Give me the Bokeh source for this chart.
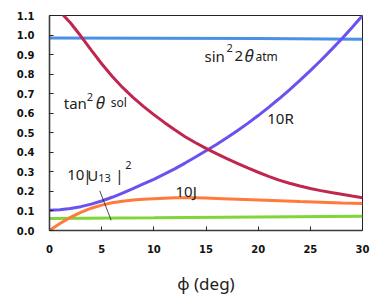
from bokeh.plotting import figure
from bokeh.models import FixedTicker, PrintfTickFormatter, Range1d
from bokeh.embed import file_html
from bokeh.resources import INLINE
from bokeh.core.properties import value

# ---- data ----
atm_phi = [0, 10, 20, 30]
atm_val = [0.985, 0.984, 0.982, 0.979]

sol_phi = [0, 1, 2, 3, 4, 5, 6, 7, 8, 9, 10, 11, 12, 13, 14, 15, 16, 17, 18, 19, 20,
           21, 22, 23, 24, 25, 26, 27, 28, 29, 30]
sol_val = [1.17, 1.12, 1.063, 0.995, 0.923, 0.853, 0.789, 0.732, 0.681, 0.635, 0.593,
           0.553, 0.515, 0.48, 0.449, 0.42, 0.393, 0.368, 0.344, 0.32, 0.298,
           0.277, 0.258, 0.242, 0.228, 0.215, 0.204, 0.194, 0.185, 0.176, 0.168]

r_phi = [0, 1, 2, 3, 4, 5, 6, 7, 8, 9, 10, 11, 12, 13, 14, 15, 16, 17, 18, 19, 20,
         21, 22, 23, 24, 25, 26, 27, 28, 29, 30]
r_val = [0.104, 0.106, 0.113, 0.122, 0.135, 0.151, 0.17, 0.191, 0.214, 0.238, 0.262,
         0.288, 0.315, 0.345, 0.376, 0.408, 0.44, 0.474, 0.51, 0.548, 0.588,
         0.63, 0.674, 0.72, 0.768, 0.818, 0.87, 0.924, 0.98, 1.039, 1.1]

j_phi = [0, 1, 2, 3, 4, 5, 6, 7, 8, 9, 10, 11, 12, 13, 14, 15, 16, 18, 20, 22, 24, 26, 28, 30]
j_val = [0.0, 0.036, 0.067, 0.093, 0.114, 0.13, 0.142, 0.15, 0.156, 0.16, 0.163, 0.165,
         0.167, 0.167, 0.167, 0.166, 0.164, 0.16, 0.156, 0.152, 0.148, 0.145, 0.141, 0.138]

u_phi = [0, 10, 20, 30]
u_val = [0.062, 0.065, 0.069, 0.073]

x_ticks = [0, 5, 10, 15, 20, 25, 30]
y_ticks = [0.0, 0.1, 0.2, 0.3, 0.4, 0.5, 0.6, 0.7, 0.8, 0.9, 1.0, 1.1]

# annotation anchors (data coords)
atm_lab = (14.86, 0.854)
sol_lab = (1.37, 0.613)
r_lab = (20.87, 0.536)
j_lab = (12.08, 0.16)
u_lab = (1.70, 0.245)
leader_x = [4.82, 5.91]
leader_y = [0.203, 0.052]

C_ATM = "#4a90e8"
C_SOL = "#c0274f"
C_R = "#6a52ef"
C_J = "#ff7b3c"
C_U = "#7fd63a"

FONT = "Noto Sans"
BASE_DY = -8

p = figure(width=370, height=297, output_backend="svg", toolbar_location=None,
           x_range=Range1d(0, 30), y_range=Range1d(0, 1.1),
           min_border_left=49, min_border_right=8, min_border_top=15, min_border_bottom=67)
p.background_fill_color = "white"
p.border_fill_color = "white"
p.outline_line_color = "#222222"
p.outline_line_width = 1
p.grid.visible = False

for ax in (p.xaxis[0], p.yaxis[0]):
    ax.axis_line_color = "#3c3c3c"
    ax.axis_line_width = 1.6
    ax.major_tick_in = 4
    ax.major_tick_out = 0
    ax.minor_tick_in = 0
    ax.minor_tick_out = 0
    ax.major_tick_line_color = "#222222"
    ax.major_label_text_font = "DejaVu Sans"
    ax.major_label_text_font_style = "bold"
    ax.major_label_text_font_size = "10px"
    ax.major_label_text_color = "#111111"

p.xaxis.ticker = FixedTicker(ticks=x_ticks)
p.yaxis.ticker = FixedTicker(ticks=y_ticks)
p.xaxis.formatter = PrintfTickFormatter(format="%d")
p.yaxis.formatter = PrintfTickFormatter(format="%.1f")
p.xaxis.major_label_standoff = 14
p.yaxis.major_label_standoff = 15
p.xaxis.axis_label = "ϕ (deg)"
p.xaxis.axis_label_text_font = FONT
p.xaxis.axis_label_text_font_style = "normal"
p.xaxis.axis_label_text_font_size = "17px"
p.xaxis.axis_label_text_color = "#222222"
p.xaxis.axis_label_standoff = 16

LW = 3
p.line(atm_phi, atm_val, line_color=C_ATM, line_width=LW)
p.line(u_phi, u_val, line_color=C_U, line_width=LW)
p.line(j_phi, j_val, line_color=C_J, line_width=LW)
p.line(r_phi, r_val, line_color=C_R, line_width=LW)
p.line(sol_phi, sol_val, line_color=C_SOL, line_width=LW)
p.line(leader_x, leader_y, line_color="#222222", line_width=0.8)


def piece(anchor, txt, dx=0, dy=0, size=15, style="normal"):
    p.text(x=[anchor[0]], y=[anchor[1]], text=[txt], x_offset=dx, y_offset=dy + BASE_DY,
           text_font=value(FONT), text_font_size=f"{size}px", text_font_style=style,
           text_color="#222222", text_align="left", text_baseline="alphabetic")


# sin^2 2 theta_atm
piece(atm_lab, "sin", 0, 0, 15)
piece(atm_lab, "2", 22, -8, 11)
piece(atm_lab, "2", 30, 0, 15)
piece(atm_lab, "θ", 40, 0, 17, "italic")
piece(atm_lab, "atm", 51, 1, 12)

# tan^2 theta_sol
piece(sol_lab, "tan", 0, 0, 15)
piece(sol_lab, "2", 23, -6, 11)
piece(sol_lab, "θ", 32, 0, 17, "italic")
piece(sol_lab, "sol", 47, 0, 12)

piece(r_lab, "10R", 0, 0, 15)
piece(j_lab, "10J", 0, 0, 15)

# 10|U13|^2
piece(u_lab, "10", 0, 0, 15)
piece(u_lab, "|", 16, 0, 15)
piece(u_lab, "U", 20, 0, 15)
piece(u_lab, "13", 31, 3, 11)
piece(u_lab, "|", 48, 0, 15)
piece(u_lab, "2", 58, -10, 11)

open("out.html", "w").write(file_html(p, INLINE))
